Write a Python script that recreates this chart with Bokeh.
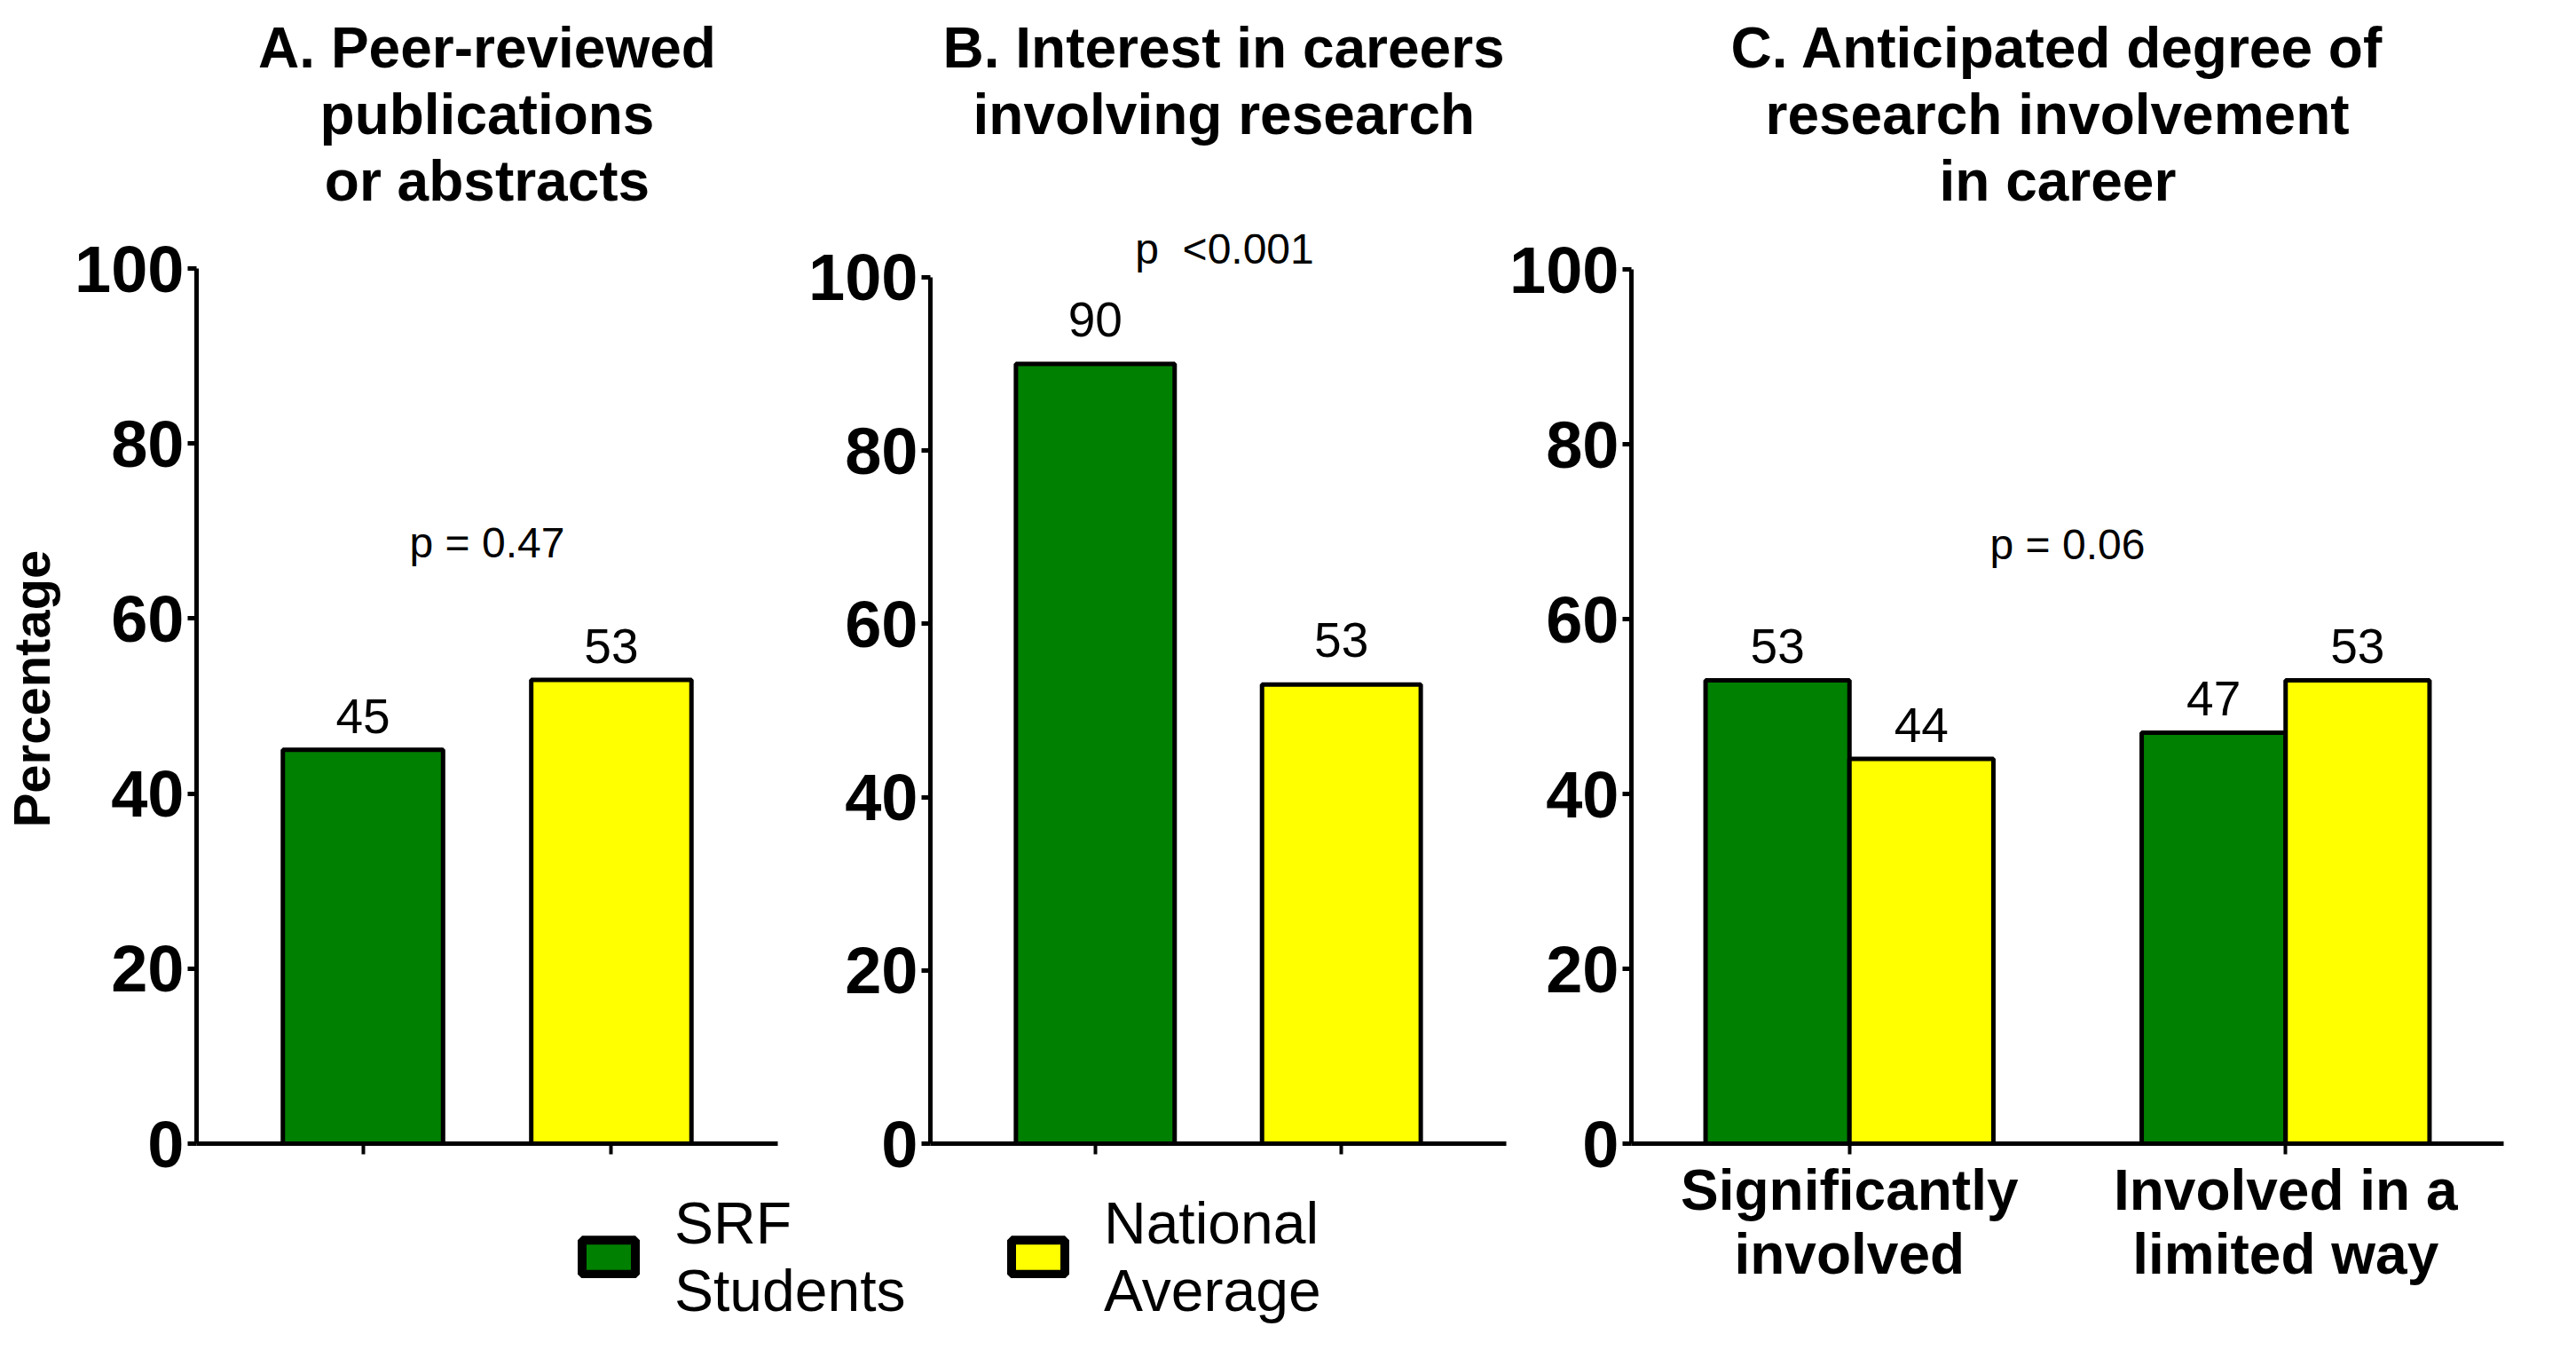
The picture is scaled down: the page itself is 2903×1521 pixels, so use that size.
import numpy as np
from bokeh.plotting import figure
from bokeh.models import (ColumnDataSource, FactorRange, Range1d, FixedTicker,
                          Label, Legend, LegendItem, Title, CategoricalAxis)
from bokeh.layouts import row, column
from bokeh.transform import dodge
from bokeh.embed import file_html
from bokeh.resources import INLINE
from bokeh.core.properties import value

# ---------------- data ----------------
series = ["SRF Students", "National Average"]
legend_labels = ["SRF\nStudents", "National\nAverage"]
a_values = [45, 53]
b_values = [90, 53]
c_categories = ["Significantly\ninvolved", "Involved in a\nlimited way"]
c_srf = [53, 47]
c_national = [44, 53]
title_a = ["A. Peer-reviewed", "publications", "or abstracts"]
title_b = ["B. Interest in careers", "involving research"]
title_c = ["C. Anticipated degree of", "research involvement", "in career"]
p_texts = ["p = 0.47", "p\u00a0 <0.001", "p = 0.06"]
p_levels = [68.7, 103.3, 68.5]
y_ticks = [0, 20, 40, 60, 80, 100]
y_label = "Percentage"

# ---------------- style ----------------
GREEN = "#008000"
YELLOW = "#FFFF00"
COLORS = [GREEN, YELLOW]
FONT = "Liberation Sans"
TITLE_SIZE = "64px"


def add_titles(p, lines, spacer, left_offsets=None):
    # invisible spacer axis keeps the title block at a set distance from the frame
    sp = CategoricalAxis(axis_line_color=None, major_tick_line_color=None,
                         minor_tick_line_color=None, major_tick_out=spacer,
                         major_tick_in=0, major_label_standoff=0,
                         major_label_text_font_size="1px",
                         major_label_text_color=None,
                         group_text_color=None, separator_line_color=None)
    p.add_layout(sp, "above")
    # first added title sits closest to the frame
    n = len(lines)
    for k in range(n - 1, -1, -1):
        t = Title(text=lines[k], text_font=FONT, text_font_size=TITLE_SIZE,
                  text_font_style="bold", text_color="black",
                  text_line_height=1.0, standoff=1)
        if left_offsets is None:
            t.align = "center"
        else:
            t.align = "left"
            t.offset = left_offsets[k]
        p.add_layout(t, "above")


def base_style(p):
    p.xgrid.visible = False
    p.ygrid.visible = False
    p.outline_line_color = None
    p.background_fill_color = "white"
    p.border_fill_color = "white"
    ya = p.left[0]
    ya.ticker = FixedTicker(ticks=y_ticks)
    ya.bounds = (0, 100)
    ya.axis_line_width = 5
    ya.axis_line_color = "black"
    ya.major_tick_line_width = 5
    ya.major_tick_line_color = "black"
    ya.major_tick_out = 10
    ya.major_tick_in = 0
    ya.minor_tick_line_color = None
    ya.major_label_text_font = FONT
    ya.major_label_text_font_size = "74px"
    ya.major_label_text_font_style = "bold"
    ya.major_label_text_color = "black"
    ya.major_label_standoff = 4
    xa = p.below[0]
    xa.axis_line_width = 5
    xa.axis_line_color = "black"
    xa.major_tick_line_width = 4
    xa.major_tick_line_color = "black"
    xa.major_tick_out = 12
    xa.major_tick_in = 0
    xa.minor_tick_line_color = None
    return ya, xa


def two_bar_panel(values, width, height, borders, y_end, label_dy,
                  p_text, p_level, p_xoff):
    left, right, top, bottom = borders
    p = figure(width=width, height=height, title=None,
               x_range=FactorRange(*series, range_padding=0.17,
                                   range_padding_units="absolute"),
               y_range=Range1d(0, y_end),
               output_backend="svg", toolbar_location=None,
               min_border_left=left, min_border_right=right,
               min_border_top=top, min_border_bottom=bottom)
    src = ColumnDataSource(dict(series=series, value=values,
                                label=[str(v) for v in values],
                                color=COLORS))
    p.vbar(x="series", top="value", width=0.645, source=src,
           fill_color="color", line_color="black", line_width=5)
    p.text(x="series", y=dodge("value", label_dy), text="label", source=src,
           text_align="center", text_baseline="alphabetic",
           text_font=value(FONT), text_font_size="55px", text_color="black")
    p.add_layout(Label(x=1.0, y=p_level, x_offset=p_xoff, text=p_text,
                       text_align="center", text_baseline="alphabetic",
                       text_font=FONT, text_font_size="48px",
                       text_color="black"))
    ya, xa = base_style(p)
    xa.major_label_text_color = None
    xa.major_label_text_font_size = "10px"
    return p, ya, xa


# Panel A (frame extends above 100 so A and B share the same frame top)
pA, yaA, xaA = two_bar_panel(a_values, 890, 1340, (216, 14, 263, 52), 103.96,
                             3.8, p_texts[0], p_levels[0], 0)
add_titles(pA, title_a, 23)
yaA.axis_label = y_label
yaA.axis_label_text_font = FONT
yaA.axis_label_text_font_size = "58px"
yaA.axis_label_text_font_style = "bold"
yaA.axis_label_text_color = "black"
yaA.axis_label_standoff = 13

# Panel B
pB, yaB, xaB = two_bar_panel(b_values, 808, 1340, (158, 1, 263, 52), 105.02,
                             5.1, p_texts[1], p_levels[1], 7)
add_titles(pB, title_b, 98, left_offsets=[14, 48])

# Panel C
pC = figure(width=1205, height=1521, title=None,
            x_range=FactorRange(*c_categories, range_padding=0,
                                range_padding_units="absolute"),
            y_range=Range1d(0, 100),
            output_backend="svg", toolbar_location=None,
            min_border_left=137, min_border_right=82,
            min_border_top=303, min_border_bottom=233)
srcC = ColumnDataSource(dict(cat=c_categories, srf=c_srf, nat=c_national,
                             srf_lbl=[str(v) for v in c_srf],
                             nat_lbl=[str(v) for v in c_national]))
pC.vbar(x=dodge("cat", -0.165, range=pC.x_range), top="srf", width=0.33,
        source=srcC, fill_color=GREEN, line_color="black", line_width=5)
pC.vbar(x=dodge("cat", 0.165, range=pC.x_range), top="nat", width=0.33,
        source=srcC, fill_color=YELLOW, line_color="black", line_width=5)
for col, lbl, off in (("srf", "srf_lbl", -0.165), ("nat", "nat_lbl", 0.165)):
    pC.text(x=dodge("cat", off, range=pC.x_range), y=dodge(col, 3.9),
            text=lbl, source=srcC, text_align="center",
            text_baseline="alphabetic", text_font=value(FONT),
            text_font_size="55px", text_color="black")
pC.add_layout(Label(x=1.0, y=p_levels[2], text=p_texts[2],
                    text_align="center", text_baseline="alphabetic",
                    text_font=FONT, text_font_size="48px",
                    text_color="black"))
yaC, xc = base_style(pC)
xc.major_label_text_font = FONT
xc.major_label_text_font_size = "64px"
xc.major_label_text_font_style = "bold"
xc.major_label_text_color = "black"
xc.major_label_text_line_height = 1.0
xc.major_label_standoff = 4
xc.major_label_orientation = "horizontal"
add_titles(pC, title_c, 63, left_offsets=[112, 151, 347])

# Legend panel (below A and B)
pL = figure(width=1698, height=181, title=None, x_range=FactorRange(*series),
            y_range=Range1d(0, 1), x_axis_location=None,
            y_axis_location=None, output_backend="svg",
            toolbar_location=None, min_border=0)
pL.outline_line_color = None
pL.grid.visible = False
legend_pos = [(648, 29), (1132, 29)]
for i, (lbl, color, pos) in enumerate(zip(legend_labels, COLORS, legend_pos)):
    src = ColumnDataSource(dict(x=series[i:i + 1], top=a_values[i:i + 1]))
    r = pL.vbar(x="x", top="top", width=0.5, source=src,
                fill_color=color, line_color="black", line_width=10)
    r.visible = False
    leg = Legend(items=[LegendItem(label=lbl, renderers=[r])],
                 location=pos, border_line_color=None,
                 background_fill_alpha=0, padding=0, margin=0, spacing=0,
                 glyph_width=75, glyph_height=48, label_standoff=37,
                 label_text_font=FONT, label_text_font_size="66px",
                 label_text_line_height=1.0, label_text_color="black")
    pL.add_layout(leg)

layout = row(column(row(pA, pB), pL), pC)

with open("out.html", "w") as f:
    f.write(file_html(layout, INLINE))
